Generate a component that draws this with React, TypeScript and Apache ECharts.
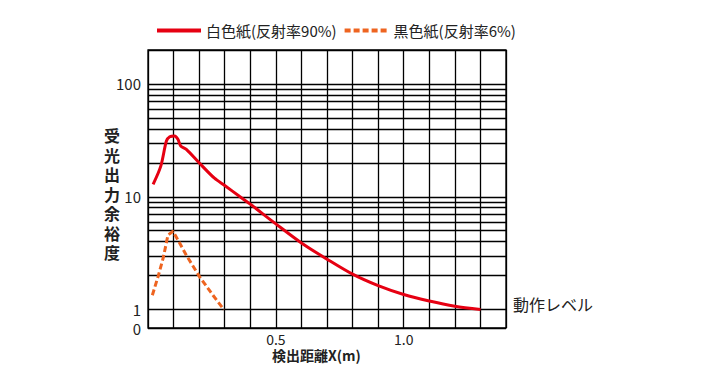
import React, { useEffect, useRef } from "react";
import * as echarts from "echarts";

const xTickLabels = ["0.5", "1.0"];
const minorGridValues = [2, 3, 4, 5, 6, 7, 8, 9, 20, 30, 40, 50, 60, 70, 80, 90];

const whiteX = [0.02, 0.05, 0.072, 0.085, 0.104, 0.117, 0.128, 0.15, 0.2, 0.26, 0.3, 0.36, 0.4, 0.5, 0.6, 0.7, 0.8, 0.9, 1.0, 1.1, 1.2, 1.3];
const whiteY = [12.9, 18.7, 31.2, 34.1, 34.6, 32.3, 28.2, 26.3, 20.0, 14.6, 12.6, 10.0, 8.6, 5.75, 3.9, 2.8, 2.06, 1.63, 1.36, 1.19, 1.07, 1.0];

const blackX = [0.017, 0.039, 0.059, 0.078, 0.098, 0.15, 0.202, 0.254, 0.297];
const blackY = [1.34, 1.95, 2.84, 4.57, 4.95, 3.03, 1.95, 1.34, 1.0];

const seriesNames = ["白色紙(反射率90%)", "黒色紙(反射率6%)"];
const yAxisTitle = "受光出力余裕度";
const xAxisTitle = "検出距離X(m)";
const levelLabel = "動作レベル";

const FONT = "'Noto Sans CJK JP', 'Noto Sans', sans-serif";

export default function App() {
  const ref = useRef<HTMLDivElement>(null);
  useEffect(() => {
    if (!ref.current) return;
    const chart = echarts.init(ref.current, undefined, { renderer: "svg" });
    const titleChars = yAxisTitle.split("").map((ch, i) => ({
      type: "text",
      left: 104,
      top: 126 + i * 19.5,
      style: {
        text: ch,
        fontSize: 16,
        fontWeight: "bold",
        lineHeight: 18,
        fill: "#222",
        fontFamily: FONT,
      },
    }));
    const option = {
      animation: false,
      textStyle: { fontFamily: FONT },
      legend: {
        left: 150,
        top: 18,
        itemWidth: 44,
        itemHeight: 8,
        itemGap: 6,
        itemStyle: { opacity: 0 },
        lineStyle: { width: 4 },
        textStyle: { fontSize: 15, color: "#222", fontFamily: FONT },
        data: seriesNames,
      },
      grid: {
        left: 148,
        top: 50,
        width: 358,
        height: 278,
        show: true,
        borderColor: "#000",
        borderWidth: 1.3,
        containLabel: false,
      },
      xAxis: {
        type: "value",
        min: 0,
        max: 1.4,
        interval: 0.1,
        axisLine: { show: false },
        axisTick: { show: false },
        axisLabel: {
          fontSize: 14,
          color: "#222",
          margin: 4,
          fontFamily: FONT,
          formatter: (v: number) => {
            const s = v.toFixed(1);
            return xTickLabels.includes(s) ? s : "";
          },
        },
        splitLine: { show: true, lineStyle: { color: "#000", width: 1.3 } },
      },
      yAxis: {
        type: "log",
        logBase: 10,
        min: 0.687,
        max: 200,
        axisLine: { show: false },
        axisTick: { show: false },
        axisLabel: {
          fontSize: 15,
          color: "#222",
          margin: 7,
          fontFamily: FONT,
          showMinLabel: true,
          showMaxLabel: false,
          formatter: (v: number) => {
            if (v < 0.9) return "0";
            if (v > 150) return "";
            return String(Math.round(v));
          },
        },
        splitLine: { show: true, lineStyle: { color: "#000", width: 1.3 } },
      },
      series: [
        {
          name: seriesNames[0],
          type: "line",
          symbol: "none",
          smooth: 0.3,
          data: whiteX.map((x, i) => [x, whiteY[i]]),
          lineStyle: { color: "#e60012", width: 3 },
          itemStyle: { color: "#e60012" },
          z: 5,
          markLine: {
            silent: true,
            symbol: "none",
            label: { show: false },
            lineStyle: { color: "#000", width: 1.3, type: "solid" },
            data: minorGridValues.map((v) => ({ yAxis: v })),
            z: 1,
          },
        },
        {
          name: seriesNames[1],
          type: "line",
          symbol: "none",
          smooth: false,
          data: blackX.map((x, i) => [x, blackY[i]]),
          lineStyle: { color: "#ee6420", width: 3, type: [6, 3] },
          itemStyle: { color: "#ee6420" },
          z: 5,
        },
      ],
      graphic: [
        ...titleChars,
        {
          type: "text",
          left: 513,
          top: 296,
          style: {
            text: levelLabel,
            fontSize: 16,
            fill: "#222",
            fontFamily: FONT,
          },
        },
        {
          type: "text",
          left: 272,
          top: 348,
          style: {
            text: xAxisTitle,
            fontSize: 14,
            fontWeight: "bold",
            fill: "#222",
            fontFamily: FONT,
          },
        },
      ],
    };
    chart.setOption(option as any);
    return () => chart.dispose();
  }, []);
  return <div ref={ref} style={{ width: 701, height: 372, position: "absolute", left: 0, top: 0 }} />;
}
